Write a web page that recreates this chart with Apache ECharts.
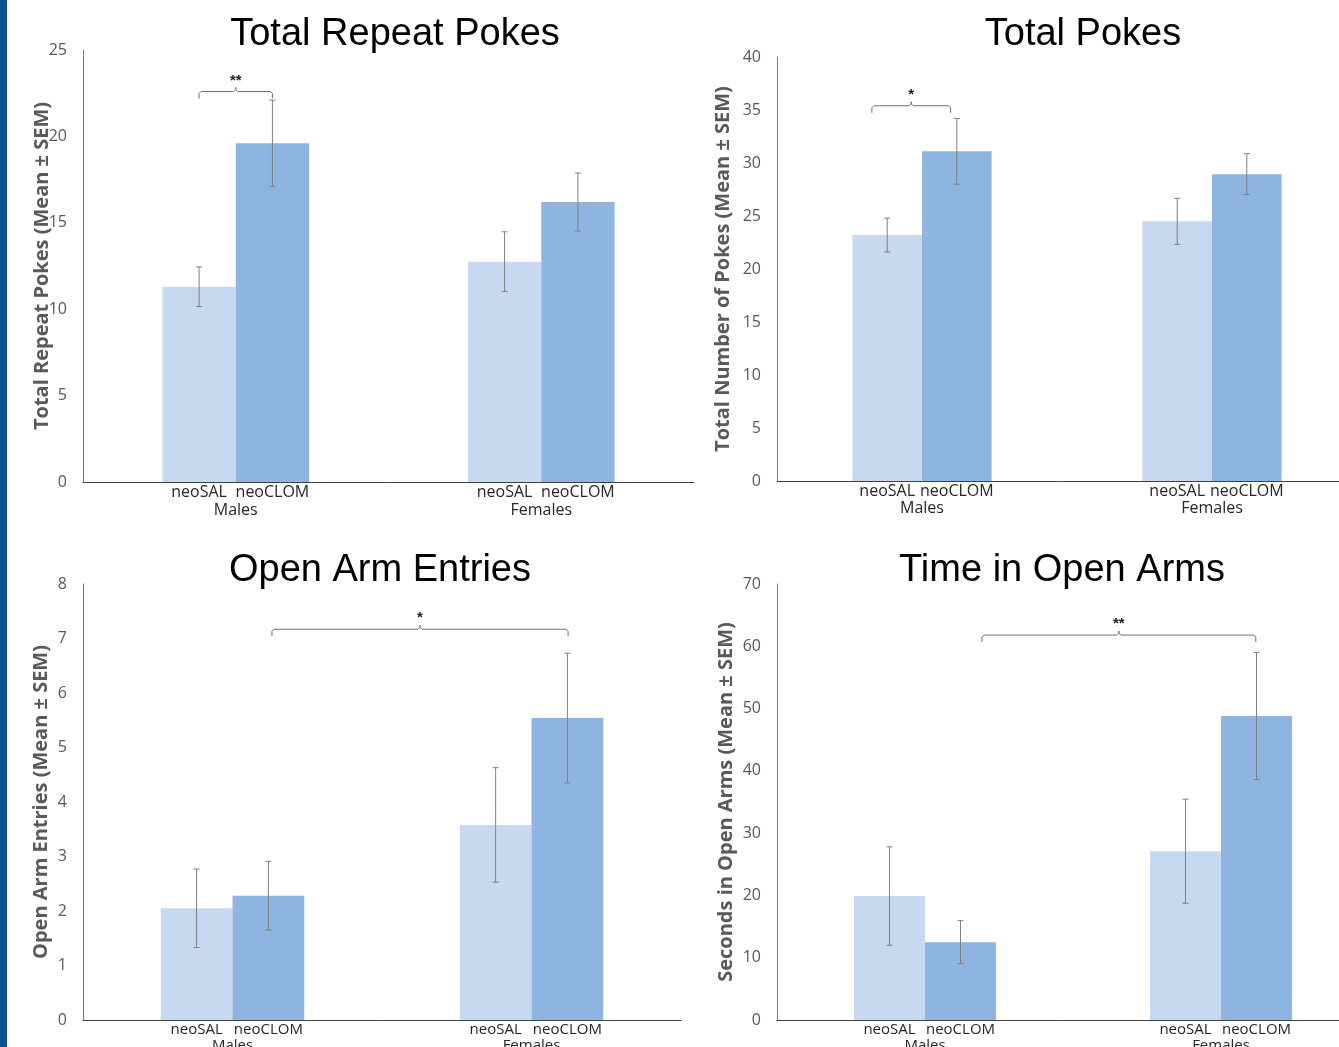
<!DOCTYPE html>
<html>
<head>
<meta charset="utf-8">
<script src="https://cdn.jsdelivr.net/npm/echarts@6/dist/echarts.min.js"></script>
<style>
  html, body { margin: 0; padding: 0; background: #fff; }
  #chart { width: 1339px; height: 1047px; }
</style>
</head>
<body>
<div id="chart"></div>
<script>
// groups and treatments
const groups = ['Males', 'Females'];
const treatments = ['neoSAL', 'neoCLOM'];

const titles = ['Total Repeat Pokes', 'Total Pokes', 'Open Arm Entries', 'Time in Open Arms'];
const yNames = [
  'Total Repeat Pokes (Mean \u00b1 SEM)',
  'Total Number of Pokes (Mean \u00b1 SEM)',
  'Open Arm Entries (Mean \u00b1 SEM)',
  'Seconds in Open Arms (Mean \u00b1 SEM)'
];
const yMax = [25, 40, 8, 70];
const yStep = [5, 5, 1, 10];

// means per treatment [Males, Females]
const repeatSAL = [11.3, 12.75];
const repeatCLOM = [19.6, 16.2];
const repeatSALsem = [1.15, 1.73];
const repeatCLOMsem = [2.5, 1.68];

const pokesSAL = [23.2, 24.5];
const pokesCLOM = [31.1, 28.95];
const pokesSALsem = [1.6, 2.17];
const pokesCLOMsem = [3.1, 1.93];

const entriesSAL = [2.05, 3.58];
const entriesCLOM = [2.28, 5.54];
const entriesSALsem = [0.72, 1.05];
const entriesCLOMsem = [0.63, 1.19];

const timeSAL = [19.9, 27.1];
const timeCLOM = [12.5, 48.8];
const timeSALsem = [7.9, 8.35];
const timeCLOMsem = [3.45, 10.2];

// significance marks: [group, bar offset] from / to, height, text
const sigText = ['**', '*', '*', '**'];
const sigY = [22.6, 35.4, 7.17, 61.8];
const sigFrom = [[0, -0.5], [0, -0.72], [0, 0.55], [0, 0.8]];
const sigTo = [[0, 0.5], [0, 0.41], [1, 0.51], [1, 0.49]];

const panels = [
  { sal: repeatSAL, clom: repeatCLOM, salE: repeatSALsem, clomE: repeatCLOMsem },
  { sal: pokesSAL, clom: pokesCLOM, salE: pokesSALsem, clomE: pokesCLOMsem },
  { sal: entriesSAL, clom: entriesCLOM, salE: entriesSALsem, clomE: entriesCLOMsem },
  { sal: timeSAL, clom: timeCLOM, salE: timeSALsem, clomE: timeCLOMsem }
];

const GAP = 0.52;
const colors = ['#c6d9f0', '#8eb4e2'];
const grey = '#595959';

const grids = [
  { left: 83, top: 50, width: 611, height: 432, outerBoundsMode: 'none' },
  { left: 777, top: 57, width: 580, height: 424, outerBoundsMode: 'none' },
  { left: 83, top: 584, width: 598, height: 436, outerBoundsMode: 'none' },
  { left: 777, top: 584, width: 592, height: 436, outerBoundsMode: 'none' }
];
const titlePos = [[395, 16], [1083, 16], [380, 552], [1062, 552]];
const nameGaps = [31, 44, 32, 41];
const subFont = [16, 16, 15, 15];
const catMargin = [20, 19, 18, 18];

function errRender(params, api) {
  const g = api.value(0), t = api.value(1);
  const top = api.coord([g, api.value(3)]);
  const bot = api.coord([g, api.value(2)]);
  const bw = api.size([1, 0])[0] * (1 - GAP) / 2;
  const x = top[0] + (t - 0.5) * bw;
  const st = { stroke: '#808080', lineWidth: 1 };
  return {
    type: 'group',
    children: [
      { type: 'line', shape: { x1: x, y1: top[1], x2: x, y2: bot[1] }, style: st },
      { type: 'line', shape: { x1: x - 3, y1: top[1], x2: x + 3, y2: top[1] }, style: st },
      { type: 'line', shape: { x1: x - 3, y1: bot[1], x2: x + 3, y2: bot[1] }, style: st }
    ]
  };
}

function sigRender(i) {
  return function (params, api) {
    const bw = api.size([1, 0])[0] * (1 - GAP) / 2;
    const a = api.coord([sigFrom[i][0], sigY[i]]);
    const b = api.coord([sigTo[i][0], sigY[i]]);
    const x1 = a[0] + sigFrom[i][1] * bw;
    const x2 = b[0] + sigTo[i][1] * bw;
    const y = a[1];
    const xm = (x1 + x2) / 2;
    const st = { stroke: '#6f6f6f', lineWidth: 1, fill: null };
    return {
      type: 'group',
      children: [
        { type: 'polyline', shape: { points: [
          [x1, y + 7], [x1, y + 2], [x1 + 2, y], [xm - 2, y], [xm, y - 2], [xm, y - 4],
          [xm, y - 2], [xm + 2, y], [x2 - 2, y], [x2, y + 2], [x2, y + 7]
        ] }, style: st },
        { type: 'text', x: xm, y: y - 11, style: {
          text: sigText[i], textAlign: 'center', textVerticalAlign: 'middle',
          font: 'bold 15px "Liberation Sans"', fill: '#222'
        } }
      ]
    };
  };
}

const option = {
  animation: false,
  title: titles.map((t, i) => ({
    text: t, left: titlePos[i][0], top: titlePos[i][1], textAlign: 'center', padding: 0,
    textStyle: { fontFamily: 'Liberation Sans', fontSize: 38, fontWeight: 'normal', color: '#000' }
  })),
  graphic: [{ type: 'rect', shape: { x: 0, y: 0, width: 7, height: 1047 }, style: { fill: '#0f4f91' } }],
  grid: grids,
  xAxis: grids.map((g, i) => ({
    type: 'category', gridIndex: i, data: groups,
    axisLine: { lineStyle: { color: '#404040', width: 1 } },
    axisTick: { show: false },
    axisLabel: { margin: catMargin[i], color: '#262626', fontFamily: 'Open Sans', fontSize: subFont[i] }
  })),
  yAxis: grids.map((g, i) => ({
    type: 'value', gridIndex: i, min: 0, max: yMax[i], interval: yStep[i],
    name: yNames[i], nameLocation: 'middle', nameGap: nameGaps[i], nameMoveOverlap: false,
    nameTextStyle: { color: grey, fontFamily: 'Open Sans', fontWeight: 'bold', fontSize: 20 },
    axisLine: { show: true, lineStyle: { color: '#7f7f7f' } },
    axisTick: { show: false },
    splitLine: { show: false },
    axisLabel: { margin: 16, color: grey, fontFamily: 'Open Sans', fontSize: 16 }
  })),
  series: []
};

panels.forEach((p, i) => {
  [p.sal, p.clom].forEach((vals, t) => {
    option.series.push({
      type: 'bar', name: treatments[t], xAxisIndex: i, yAxisIndex: i,
      data: vals, barGap: '0%', barCategoryGap: GAP * 100 + '%',
      itemStyle: { color: colors[t] },
      label: { show: true, position: 'bottom', distance: 2, formatter: '{a}',
        color: '#262626', fontFamily: 'Open Sans', fontSize: subFont[i] }
    });
  });
  const errData = [];
  [[p.sal, p.salE], [p.clom, p.clomE]].forEach(([m, e], t) => {
    m.forEach((v, g) => errData.push([g, t, v - e[g], v + e[g]]));
  });
  option.series.push({
    type: 'custom', xAxisIndex: i, yAxisIndex: i, z: 3,
    data: errData, encode: { x: 0, y: [2, 3] }, renderItem: errRender
  });
  option.series.push({
    type: 'custom', xAxisIndex: i, yAxisIndex: i, z: 3,
    data: [[0, sigY[i]]], encode: { x: 0, y: 1 }, renderItem: sigRender(i)
  });
});

const myChart = echarts.init(document.getElementById('chart'));
myChart.setOption(option);
</script>
</body>
</html>
